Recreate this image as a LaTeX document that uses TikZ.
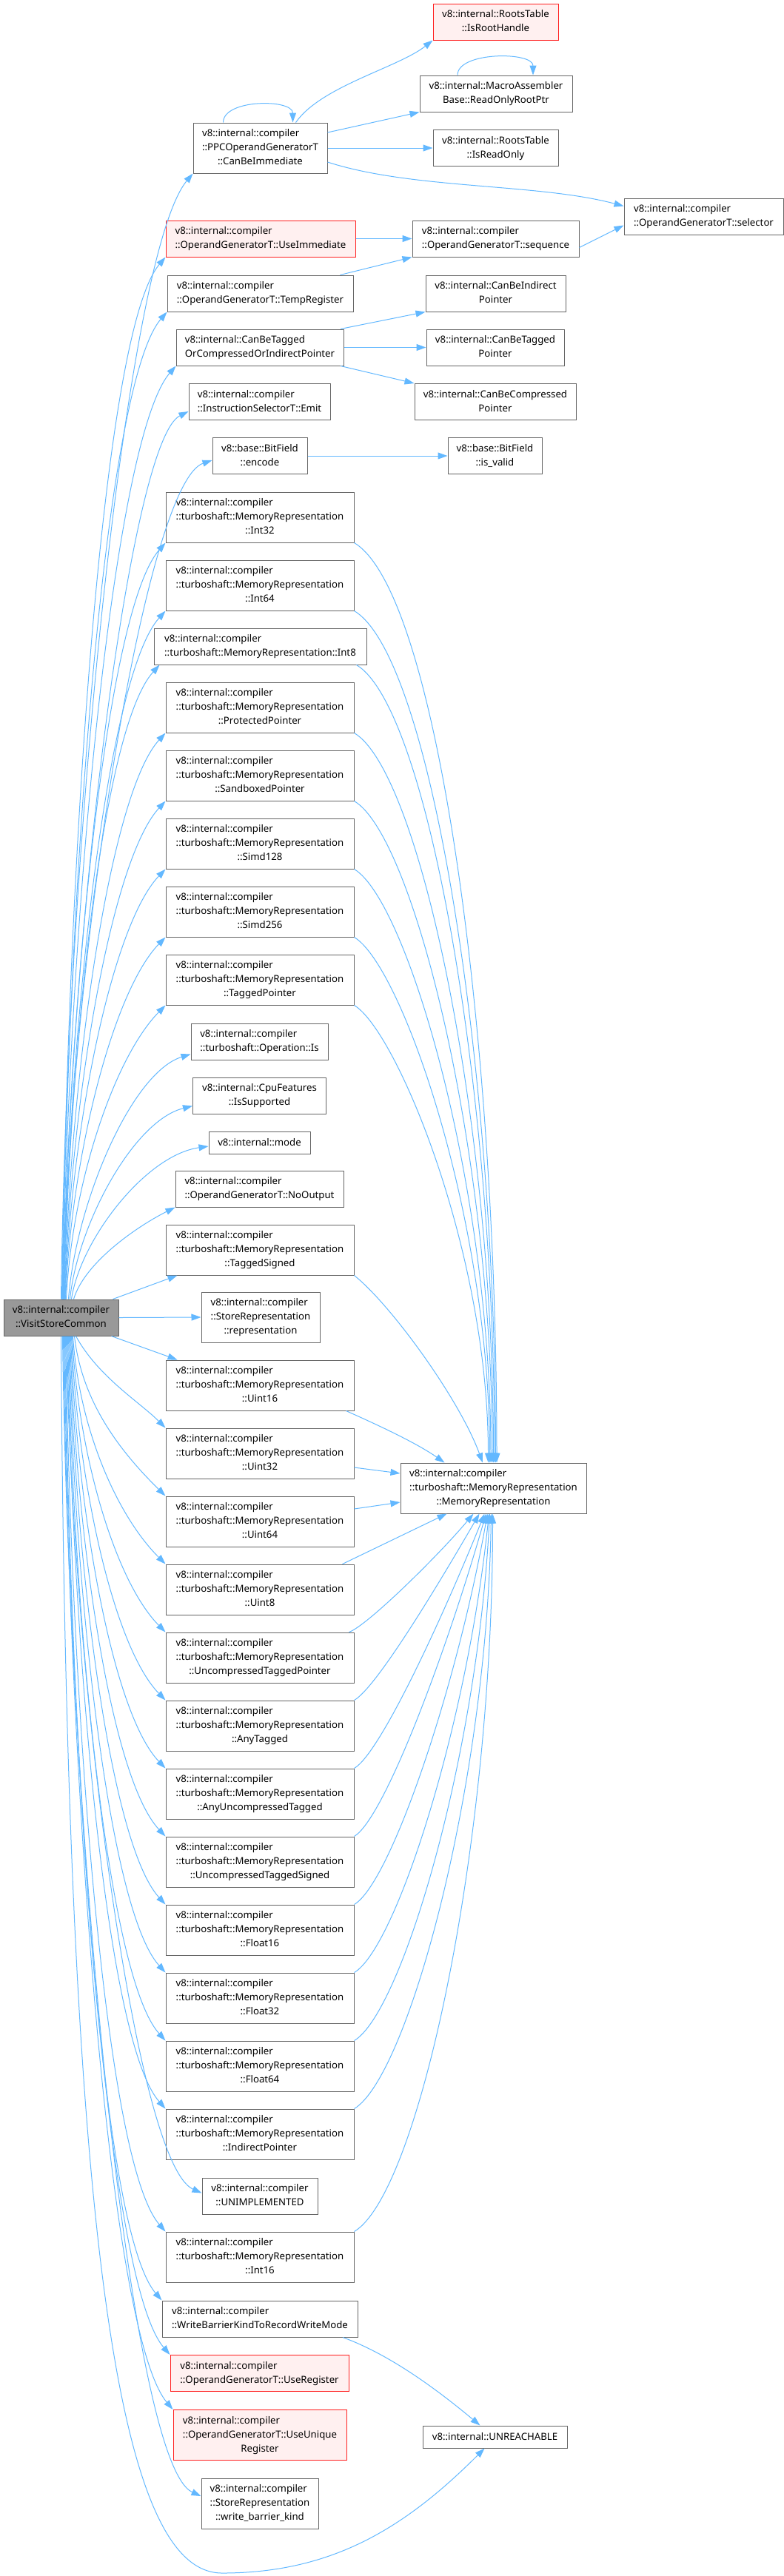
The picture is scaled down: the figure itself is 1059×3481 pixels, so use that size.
\documentclass[tikz,border=0pt]{standalone}
\usepackage{fontspec}
\setmainfont{Noto Sans}
\usepackage{xcolor}
\definecolor{dxedge}{HTML}{63B8FF}
\definecolor{dxline}{HTML}{666666}
\definecolor{dxroot}{HTML}{999999}
\definecolor{dxpink}{HTML}{FFF0F0}
\definecolor{dxred}{HTML}{FF2020}
\usetikzlibrary{arrows.meta}
% label: all lines left, the last one centred
\newcommand{\fnlbl}[2]{\begin{tabular}{@{}l@{}}#1\\\multicolumn{1}{@{}c@{}}{#2}\end{tabular}}
\newcommand{\mrlbl}[1]{\fnlbl{v8::internal::compiler\\::turboshaft::MemoryRepresentation}{::#1}}
% #1 xshift on caller, #2 target, #3/#4 control offsets
\newcommand{\callup}[4]{\draw[edge] ([xshift=#1]root.north) .. controls +(#3) and +(#4) .. (#2);}
\newcommand{\calldown}[4]{\draw[edge] ([xshift=#1]root.south) .. controls +(#3) and +(#4) .. (#2);}
\newcommand{\memin}[4]{\draw[edge] (#1) .. controls +(#3) and +(#4) .. ([xshift=#2]memrep.north);}
\newcommand{\memout}[4]{\draw[edge] (#1) .. controls +(#3) and +(#4) .. ([xshift=#2]memrep.south);}

\begin{document}
\begin{tikzpicture}[x=1pt,y=1pt,
  fn/.style={draw=dxline,line width=1pt,fill=white,inner sep=0pt,
    font={\fontsize{13.2}{19}\selectfont}},
  hl/.style={draw=dxred,fill=dxpink},
  rootfn/.style={fn,fill=dxroot},
  h1/.style={minimum height=30pt},
  h2/.style={minimum height=49pt},
  h3/.style={minimum height=68pt},
  mr/.style={fn,h3,minimum width=254pt},
  edge/.style={draw=dxedge,line width=1pt,-{Triangle[length=13pt,width=9pt]}}]
\useasboundingbox (0,0) rectangle (1059,-3481);
% ---- caller ----
\node[rootfn,h2,minimum width=155pt] (root) at (82.5,-1780.5) {\fnlbl{v8::internal::compiler}{::VisitStoreCommon}};
% ---- first column ----
\node[fn,h3,minimum width=181pt] (ppc) at (351.5,-200) {\fnlbl{v8::internal::compiler\\::PPCOperandGeneratorT}{::CanBeImmediate}};
\node[fn,hl,h2,minimum width=256pt] (useimm) at (352,-322.5) {\fnlbl{v8::internal::compiler}{::OperandGeneratorT::UseImmediate}};
\node[fn,h2,minimum width=251pt] (tempreg) at (351.5,-396.5) {\fnlbl{v8::internal::compiler}{::OperandGeneratorT::TempRegister}};
\node[fn,h2,minimum width=226pt] (cbtag) at (351,-469.5) {\fnlbl{v8::internal::CanBeTagged}{OrCompressedOrIndirectPointer}};
\node[fn,h2,minimum width=191pt] (emit) at (350.5,-543) {\fnlbl{v8::internal::compiler}{::InstructionSelectorT::Emit}};
\node[fn,h2,minimum width=128pt] (encode) at (351,-616) {\fnlbl{v8::base::BitField}{::encode}};
\node[mr] (int32) at (351,-699) {\mrlbl{Int32}};
\node[mr] (int64) at (351,-791) {\mrlbl{Int64}};
\node[fn,h2,minimum width=287pt] (int8) at (351.5,-873.5) {\fnlbl{v8::internal::compiler}{::turboshaft::MemoryRepresentation::Int8}};
\node[mr] (protected) at (351,-956) {\mrlbl{ProtectedPointer}};
\node[mr] (sandboxed) at (351,-1048) {\mrlbl{SandboxedPointer}};
\node[mr] (simd128) at (351,-1140) {\mrlbl{Simd128}};
\node[mr] (simd256) at (351,-1232) {\mrlbl{Simd256}};
\node[mr] (taggedptr) at (351,-1324) {\mrlbl{TaggedPointer}};
\node[fn,h2,minimum width=185pt] (opis) at (350.5,-1407.5) {\fnlbl{v8::internal::compiler}{::turboshaft::Operation::Is}};
\node[fn,h2,minimum width=180pt] (cpufeat) at (350.5,-1480.5) {\fnlbl{v8::internal::CpuFeatures}{::IsSupported}};
\node[fn,h1,minimum width=137pt] (mode) at (350.5,-1544) {v8::internal::mode};
\node[fn,h2,minimum width=227pt] (nooutput) at (350.5,-1606.5) {\fnlbl{v8::internal::compiler}{::OperandGeneratorT::NoOutput}};
\node[mr] (taggedsigned) at (351,-1689) {\mrlbl{TaggedSigned}};
\node[fn,h3,minimum width=160pt] (storerep) at (352,-1780) {\fnlbl{v8::internal::compiler\\::StoreRepresentation}{::representation}};
\node[mr] (uint16) at (351,-1872) {\mrlbl{Uint16}};
\node[mr] (uint32) at (351,-1964) {\mrlbl{Uint32}};
\node[mr] (uint64) at (351,-2056) {\mrlbl{Uint64}};
\node[mr] (uint8) at (351,-2148) {\mrlbl{Uint8}};
\node[mr] (uctp) at (351,-2240) {\mrlbl{UncompressedTaggedPointer}};
\node[mr] (anytag) at (351,-2332) {\mrlbl{AnyTagged}};
\node[mr] (anyuct) at (351,-2424) {\mrlbl{AnyUncompressedTagged}};
\node[mr] (ucts) at (351,-2516) {\mrlbl{UncompressedTaggedSigned}};
\node[mr] (f16) at (351,-2608) {\mrlbl{Float16}};
\node[mr] (f32) at (351,-2700) {\mrlbl{Float32}};
\node[mr] (f64) at (351,-2792) {\mrlbl{Float64}};
\node[mr] (indptr) at (351,-2884) {\mrlbl{IndirectPointer}};
\node[fn,h2,minimum width=156pt] (unimpl) at (351,-2967.5) {\fnlbl{v8::internal::compiler}{::UNIMPLEMENTED}};
\node[mr] (int16) at (351,-3050) {\mrlbl{Int16}};
\node[fn,h2,minimum width=264pt] (wbmode) at (351,-3133.5) {\fnlbl{v8::internal::compiler}{::WriteBarrierKindToRecordWriteMode}};
\node[fn,hl,h2,minimum width=241pt] (usereg) at (350.5,-3207) {\fnlbl{v8::internal::compiler}{::OperandGeneratorT::UseRegister}};
\node[fn,hl,h3,minimum width=234pt] (useuniq) at (351,-3290.5) {\fnlbl{v8::internal::compiler\\::OperandGeneratorT::UseUnique}{Register}};
\node[fn,h3,minimum width=158pt] (wbkind) at (351,-3383) {\fnlbl{v8::internal::compiler\\::StoreRepresentation}{::write\_barrier\_kind}};
% ---- second column ----
\node[fn,hl,h2,minimum width=169pt] (roothandle) at (669.5,-29.5) {\fnlbl{v8::internal::RootsTable}{::IsRootHandle}};
\node[fn,h2,minimum width=206pt] (roptr) at (670,-126.5) {\fnlbl{v8::internal::MacroAssembler}{Base::ReadOnlyRootPtr}};
\node[fn,h2,minimum width=169pt] (isro) at (669.5,-200) {\fnlbl{v8::internal::RootsTable}{::IsReadOnly}};
\node[fn,h2,minimum width=225pt] (sequence) at (669.5,-322.5) {\fnlbl{v8::internal::compiler}{::OperandGeneratorT::sequence}};
\node[fn,h2,minimum width=189pt] (cbind) at (669.5,-396.5) {\fnlbl{v8::internal::CanBeIndirect}{Pointer}};
\node[fn,h2,minimum width=186pt] (cbtagptr) at (669,-469.5) {\fnlbl{v8::internal::CanBeTagged}{Pointer}};
\node[fn,h2,minimum width=218pt] (cbcomp) at (669,-543) {\fnlbl{v8::internal::CanBeCompressed}{Pointer}};
\node[fn,h2,minimum width=127pt] (isvalid) at (668.5,-616) {\fnlbl{v8::base::BitField}{::is\_valid}};
\node[fn,h3,minimum width=251pt] (memrep) at (666.5,-2011) {\fnlbl{v8::internal::compiler\\::turboshaft::MemoryRepresentation}{::MemoryRepresentation}};
\node[fn,h1,minimum width=195pt] (unreach) at (668.5,-3293) {v8::internal::UNREACHABLE};
% ---- third column ----
\node[fn,h2,minimum width=215pt] (selector) at (950.5,-292.5) {\fnlbl{v8::internal::compiler}{::OperandGeneratorT::selector}};

% calls going up
\callup{0pt}{ppc.south west}{8,609}{-90,-108}
\callup{1pt}{useimm.south west}{8,564}{-88,-104}
\callup{1.5pt}{tempreg.south west}{8,534}{-87,-102}
\callup{2pt}{cbtag.south west}{8,505}{-85,-99}
\callup{2.5pt}{[yshift=-13pt]emit.west}{8,480}{-80,-40}
\callup{3pt}{[yshift=-6pt]encode.west}{8,454}{-90,-30}
\callup{3pt}{int32.south west}{8,409}{-80,-91}
\callup{3.5pt}{int64.south west}{8,372}{-79,-88}
\callup{4pt}{[xshift=8pt]int8.south west}{8,343}{-77,-85}
\callup{4.5pt}{protected.south west}{8,306}{-75,-82}
\callup{5pt}{sandboxed.south west}{8,270}{-73,-79}
\callup{5.5pt}{simd128.south west}{8,233}{-72,-75}
\callup{6pt}{simd256.south west}{8,196}{-70,-72}
\callup{7pt}{taggedptr.south west}{8,159}{-68,-69}
\callup{10pt}{[yshift=-17pt]opis.west}{10,130}{-80,-25}
\callup{12pt}{[yshift=-14pt]cpufeat.west}{10,100}{-80,-20}
\callup{14pt}{[yshift=-5pt]mode.west}{12,80}{-85,-12}
\callup{17pt}{nooutput.south west}{15,50}{-50,-25}
\draw[edge] ([xshift=70pt]root.north) -- ([xshift=16pt]taggedsigned.south west);
% calls going down
\draw[edge] (root.east) -- (storerep.west);
\draw[edge] ([xshift=68pt]root.south) -- ([xshift=16pt]uint16.north west);
\calldown{20pt}{uint32.north west}{30,-55}{-35,35}
\calldown{18pt}{uint64.north west}{10,-87}{-64,63}
\calldown{16pt}{uint8.north west}{8,-124}{-66,66}
\calldown{15pt}{uctp.north west}{8,-160}{-68,69}
\calldown{14pt}{anytag.north west}{8,-197}{-70,72}
\calldown{13pt}{anyuct.north west}{8,-234}{-72,75}
\calldown{12pt}{ucts.north west}{8,-271}{-74,79}
\calldown{11pt}{f16.north west}{8,-308}{-75,82}
\calldown{10pt}{f32.north west}{8,-344}{-77,85}
\calldown{9pt}{f64.north west}{8,-381}{-79,88}
\calldown{8pt}{indptr.north west}{8,-418}{-81,92}
\calldown{7pt}{[yshift=4pt]unimpl.west}{8,-463}{-90,40}
\calldown{6pt}{int16.north west}{8,-484}{-84,97}
\calldown{5pt}{wbmode.north west}{8,-522}{-86,101}
\calldown{4pt}{usereg.north west}{8,-551}{-88,103}
\calldown{3pt}{useuniq.north west}{8,-580}{-89,106}
\calldown{2pt}{[yshift=10pt]wbkind.west}{8,-627}{-100,45}
% long way round to UNREACHABLE
\coordinate (loopbot) at (300,-3477);
\draw[edge] (root.south) .. controls +(8,-1300) and +(-130,0) .. (loopbot)
  .. controls +(150,0) and +(-106,-106) .. ([xshift=-14pt]unreach.south);

% second level
\draw[edge] ([xshift=-50pt]ppc.north) .. controls +(0,32) and +(0,32) .. ([xshift=44pt]ppc.north);
\draw[edge] ([xshift=48pt]ppc.north) .. controls +(34,49) and +(-47,-37) .. (roothandle.south west);
\draw[edge] ([yshift=21pt]ppc.east) -- (roptr.south west);
\draw[edge] (ppc.east) -- (isro.west);
\draw[edge] ([yshift=-19pt]ppc.east) .. controls +(114,-37) and +(-116,31) .. ([yshift=14pt]selector.west);
\draw[edge] ([xshift=-52pt]roptr.north) .. controls +(0,32) and +(0,32) .. ([xshift=50pt]roptr.north);
\draw[edge] (useimm.east) -- (sequence.west);
\draw[edge] ([yshift=-12pt]sequence.east) -- ([yshift=-12pt]selector.west);
\draw[edge] ([xshift=108pt]tempreg.north) -- (sequence.south west);
\draw[edge] ([xshift=109pt]cbtag.north) -- (cbind.south west);
\draw[edge] (cbtag.east) -- (cbtagptr.west);
\draw[edge] ([xshift=109pt]cbtag.south) -- (cbcomp.north west);
\draw[edge] (encode.east) -- (isvalid.west);
\draw[edge] ([xshift=112pt]wbmode.south) .. controls +(66,-24) and +(-54,45) .. ([xshift=-20pt]unreach.north);
% into MemoryRepresentation
\memin{int32.south east}{4.5pt}{112,-67}{0,577}
\memin{int64.south east}{3pt}{104,-62}{0,534}
\memin{[xshift=-14pt]int8.south east}{1.5pt}{97,-58}{0,500}
\memin{protected.south east}{0pt}{89,-53}{0,458}
\memin{sandboxed.south east}{-1.5pt}{81,-48}{0,415}
\memin{simd128.south east}{-3.5pt}{72,-43}{0,372}
\memin{simd256.south east}{-5pt}{64,-38}{0,330}
\memin{taggedptr.south east}{-7pt}{56,-33}{0,287}
\memin{taggedsigned.south east}{-14.5pt}{50,-40}{-31,85}
\memin{[xshift=-11pt]uint16.south east}{-66pt}{45,-20}{-37,26}
\draw[edge] ([yshift=-19pt]uint32.east) -- ([yshift=20pt]memrep.west);
\draw[edge] ([yshift=17pt]uint64.east) -- ([yshift=-19pt]memrep.west);
\draw[edge] ([xshift=-16pt]uint8.north east) -- ([xshift=-63pt]memrep.south);
\memout{[xshift=-7pt]uctp.north east}{-27pt}{25,9}{-45,-54}
\memout{anytag.north east}{-19pt}{30,17}{-55,-95}
\memout{anyuct.north east}{-12pt}{35,20}{-56,-139}
\memout{ucts.north east}{-10pt}{40,24}{-55,-192}
\memout{f16.north east}{-8pt}{48,28}{-43,-241}
\memout{f32.north east}{-6pt}{56,33}{-30,-288}
\memout{f64.north east}{-5pt}{64,38}{-17,-330}
\memout{indptr.north east}{-3pt}{72,43}{-6,-370}
\memout{int16.north east}{-1pt}{87,52}{0,-450}
\end{tikzpicture}
\end{document}
